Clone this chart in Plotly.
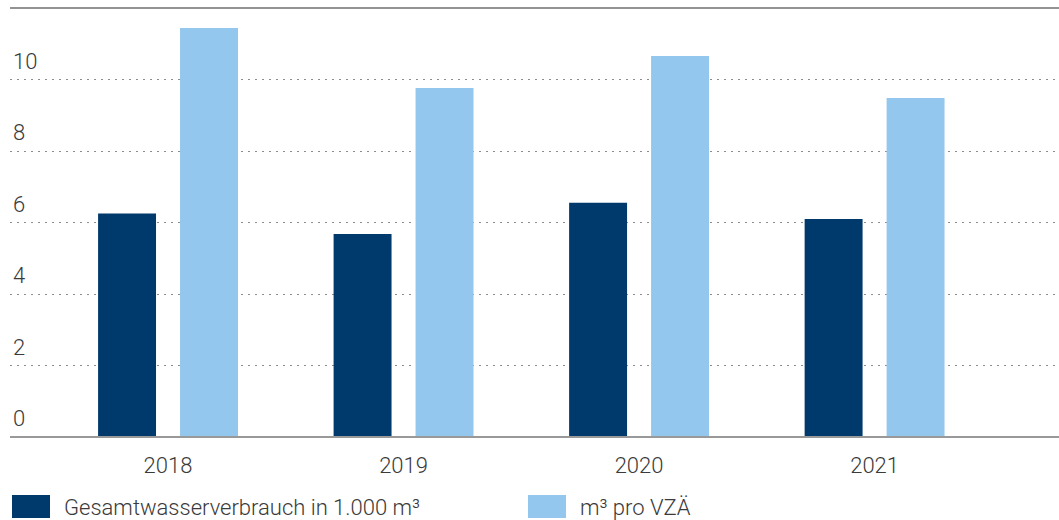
import plotly.graph_objects as go

years = ["2018", "2019", "2020", "2021"]
total_water = [6.25, 5.68, 6.55, 6.10]      # Gesamtwasserverbrauch in 1.000 m³
per_fte = [11.44, 9.76, 10.66, 9.48]        # m³ pro VZÄ
series_names = ["Gesamtwasserverbrauch in 1.000 m³", "m³ pro VZÄ"]
series_colors = ["#00396b", "#94c7ed"]
y_ticks = [2, 4, 6, 8, 10]

W, H = 1059, 520
M = dict(l=10, r=0, t=8, b=83)
FONT = "Roboto, 'Liberation Sans', Arial, sans-serif"
TEXT = "#3a3a3a"
FS = 22

fig = go.Figure()

# two bars per year, placed side by side with explicit offsets
fig.add_trace(go.Bar(
    x=years, y=total_water, name=series_names[0],
    marker=dict(color=series_colors[0], line=dict(width=0)),
    width=0.246, offset=-0.297, showlegend=False,
))
fig.add_trace(go.Bar(
    x=years, y=per_fte, name=series_names[1],
    marker=dict(color=series_colors[1], line=dict(width=0)),
    width=0.246, offset=0.051, showlegend=False,
))

# top and bottom frame lines
fig.add_shape(type="line", xref="paper", yref="paper", x0=0, x1=1, y0=1, y1=1,
              line=dict(color="#6f6f6f", width=1.5))
fig.add_shape(type="line", xref="paper", yref="paper", x0=0, x1=1, y0=0, y1=0,
              line=dict(color="#999999", width=2))

# hand-made legend (large square swatches)
plot_w = W - M["l"] - M["r"]
plot_h = H - M["t"] - M["b"]

def px_x(px):
    return (px - M["l"]) / plot_w

def px_y(py):
    return (H - M["b"] - py) / plot_h

legend_pos = [(12, 62), (528, 578)]
for (sx, tx), name, col in zip(legend_pos, series_names, series_colors):
    fig.add_shape(type="rect", xref="paper", yref="paper",
                  x0=px_x(sx), x1=px_x(sx + 38), y0=px_y(518), y1=px_y(495),
                  fillcolor=col, line=dict(width=0))
    fig.add_annotation(xref="paper", yref="paper", x=px_x(tx), y=px_y(507),
                       text=name, showarrow=False, xanchor="left", yanchor="middle",
                       font=dict(family=FONT, size=FS, color=TEXT, weight=300))

fig.update_layout(
    width=W, height=H,
    margin=M,
    plot_bgcolor="white",
    paper_bgcolor="white",
    barmode="overlay",
    showlegend=False,
    font=dict(family=FONT, size=FS, color=TEXT, weight=300),
)

fig.update_xaxes(
    type="category",
    range=[-0.671, 3.783],
    showgrid=False, zeroline=False, showline=False,
    ticks="outside", ticklen=9, tickcolor="rgba(0,0,0,0)",
    tickfont=dict(family=FONT, size=FS, color=TEXT, weight=300),
)

fig.update_yaxes(
    range=[0, 12],
    tickvals=[0] + y_ticks,
    ticktext=[str(v) for v in [0] + y_ticks],
    ticklabelposition="inside top",
    ticklabelshift=-3,
    ticks="",
    showgrid=True, gridcolor="#8c8c8c", gridwidth=1.2, griddash="1.5px,5.5px",
    zeroline=False, showline=False,
    tickfont=dict(family=FONT, size=FS, color=TEXT, weight=300),
)

# page body has a default 8px margin; remove it so the figure sits at the window origin
fig.write_html("out.html",
               config={"displayModeBar": False},
               post_script="document.body.style.margin='0';document.body.style.overflow='hidden';")
